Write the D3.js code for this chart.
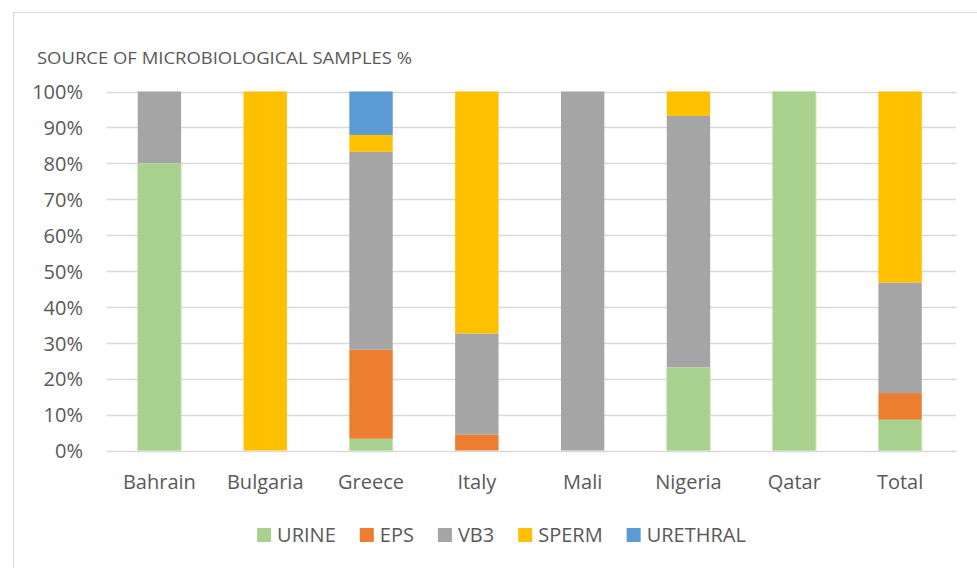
<!DOCTYPE html>
<html>
<head>
<meta charset="utf-8">
<script src="https://cdn.jsdelivr.net/npm/d3@7"></script>
<style>
  html, body { margin: 0; padding: 0; background: #fff; }
  svg text { font-family: "Open Sans", sans-serif; fill: #595959; }
</style>
</head>
<body>
<svg id="chart" width="977" height="568"></svg>
<script>
const title = "SOURCE OF MICROBIOLOGICAL SAMPLES %";
const categories = ["Bahrain", "Bulgaria", "Greece", "Italy", "Mali", "Nigeria", "Qatar", "Total"];
const seriesNames = ["URINE", "EPS", "VB3", "SPERM", "URETHRAL"];
const seriesColors = ["#a9d18e", "#ed7d31", "#a5a5a5", "#ffc000", "#5b9bd5"];
const urine    = [80, 0, 3.3, 0,   0, 23.2, 100, 8.6];
const eps      = [0, 0, 24.8, 4.4, 0, 0,    0,   7.4];
const vb3      = [20, 0, 55.1, 28.2, 100, 70.0, 0, 30.8];
const sperm    = [0, 100, 4.7, 67.4, 0, 6.8, 0, 53.2];
const urethral = [0, 0, 12.1, 0, 0, 0, 0, 0];
const yTicks = [0, 10, 20, 30, 40, 50, 60, 70, 80, 90, 100];

const seriesValues = [urine, eps, vb3, sperm, urethral];
const rows = categories.map((c, i) => {
  const r = { category: c };
  seriesNames.forEach((s, k) => r[s] = seriesValues[k][i]);
  return r;
});

const svg = d3.select("#chart");

// chart border
svg.append("rect")
  .attr("x", 13.5).attr("y", 12.5)
  .attr("width", 980).attr("height", 570)
  .attr("fill", "none").attr("stroke", "#d9d9d9").attr("stroke-width", 1);

const x = d3.scaleBand().domain(categories).range([106.5, 953]).paddingInner(0.59).paddingOuter(0.295);
const y = d3.scaleLinear().domain([0, 100]).range([450.5, 91.5]);

// gridlines
svg.append("g").selectAll("line").data(yTicks).join("line")
  .attr("x1", 106.5).attr("x2", 956)
  .attr("y1", d => Math.round(y(d)) + 0.5).attr("y2", d => Math.round(y(d)) + 0.5)
  .attr("stroke", "#d9d9d9").attr("stroke-width", 1.3);

// y axis labels
const yAxis = d3.axisLeft(y).tickValues(yTicks).tickFormat(d => d + "%").tickSize(0).tickPadding(0);
const yg = svg.append("g").attr("transform", "translate(83,0)").call(yAxis);
yg.select(".domain").remove();
yg.selectAll("text").attr("font-size", 20).attr("font-family", "Open Sans").attr("fill", "#595959").attr("dy", "0.36em");

// stacked bars
const stack = d3.stack().keys(seriesNames);
const stacked = stack(rows);
const color = d3.scaleOrdinal().domain(seriesNames).range(seriesColors);

svg.append("g").selectAll("g").data(stacked).join("g")
  .attr("fill", d => color(d.key))
  .selectAll("rect").data(d => d.map(p => ({ p, key: d.key }))).join("rect")
  .filter(d => d.p[1] - d.p[0] > 0)
  .attr("x", d => x(d.p.data.category))
  .attr("width", x.bandwidth())
  .attr("y", d => y(d.p[1]))
  .attr("height", d => y(d.p[0]) - y(d.p[1]))
  .attr("stroke", d => d.key === "URINE" ? "#c9e3b8" : "none")
  .attr("stroke-width", 1);

// x axis labels
const xAxis = d3.axisBottom(x).tickSize(0).tickPadding(0);
const xg = svg.append("g").attr("transform", "translate(0,489)").call(xAxis);
xg.select(".domain").remove();
xg.selectAll("text").attr("font-size", 20).attr("font-family", "Open Sans").attr("fill", "#595959").attr("dy", 0);

// title
svg.append("text")
  .attr("x", 37).attr("y", 64)
  .attr("font-size", 17)
  .attr("textLength", 375).attr("lengthAdjust", "spacingAndGlyphs")
  .text(title);

// legend
const legend = svg.append("g");
const items = legend.selectAll("g").data(seriesNames).join("g");
items.append("rect").attr("width", 14).attr("height", 14).attr("y", -14)
  .attr("fill", d => color(d));
items.append("text").attr("x", 20).attr("y", 0).attr("font-size", 20).text(d => d);
let cx = 0;
const widths = [];
items.each(function(d) {
  const w = 20 + d3.select(this).select("text").node().getComputedTextLength();
  widths.push(w);
});
const gap = 24;
const total = d3.sum(widths) + gap * (widths.length - 1);
let start = 501.5 - total / 2;
items.attr("transform", (d, i) => {
  const t = `translate(${start},542)`;
  start += widths[i] + gap;
  return t;
});
</script>
</body>
</html>
